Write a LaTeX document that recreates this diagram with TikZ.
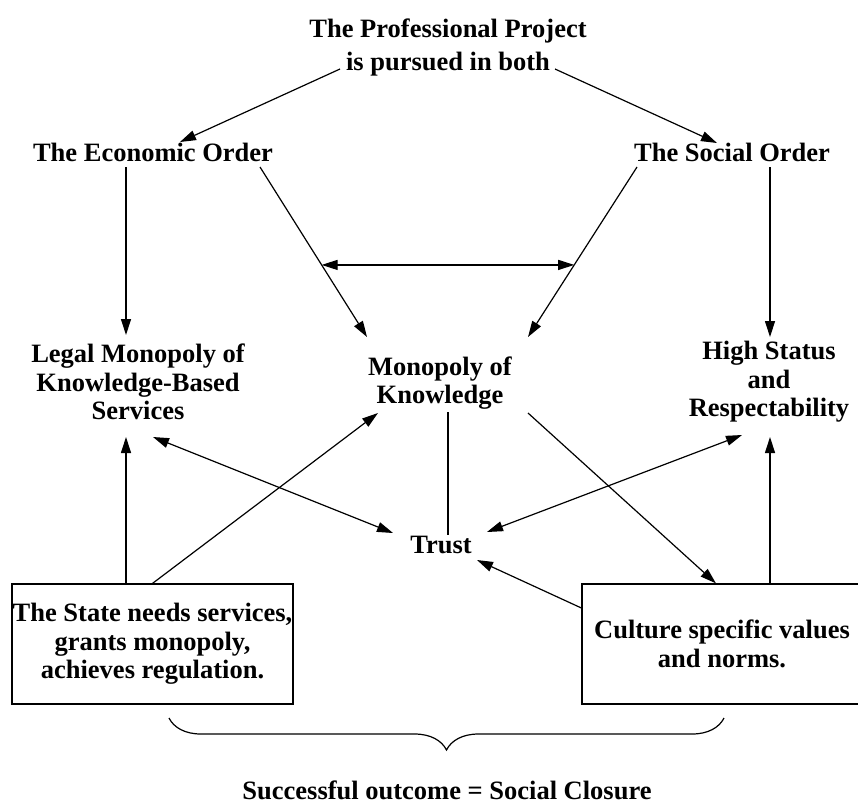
\documentclass[tikz,border=0pt]{standalone}
\usepackage{fontspec}
\setmainfont{Liberation Serif}
\usetikzlibrary{arrows.meta,calc,decorations.pathreplacing}

\tikzset{
  txt/.style={font=\bfseries\fontsize{26.5}{28.5}\selectfont, align=center, inner sep=0pt},
  box/.style={txt, draw, minimum height=120pt},
  arr/.style={-{Triangle[length=16pt,width=10pt]}},
  dblarr/.style={{Triangle[length=16pt,width=10pt]}-{Triangle[length=16pt,width=10pt]}},
}

\begin{document}
\begin{tikzpicture}[x=1pt,y=-1pt,line width=1.2pt]
\useasboundingbox (0,0) rectangle (858,804);

% top row
\node[txt,font=\bfseries\fontsize{26.5}{33}\selectfont] (title) at (448,47) {The Professional Project\\is pursued in both};
\node[txt] (econ) at (153,152) {The Economic Order};
\node[txt] (social) at (732,152) {The Social Order};

% middle row
\node[txt] (legal) at (138,382) {Legal Monopoly of\\Knowledge-Based\\Services};
\node[txt] (mono) at (440,383) {Monopoly of\\Knowledge};
\node[txt] (status) at (769,382) {High Status\\and\\Respectability};
\node[txt] (trust) at (441,545) {Trust};

% boxes
\node[box,minimum width=281pt] (box1) at (152.5,644) {The State needs services,\\grants monopoly,\\achieves regulation.};
\node[box,minimum width=280pt] (box2) at (722,644) {Culture specific values\\and norms.};

\node[txt] (closure) at (447,790) {Successful outcome = Social Closure};

% arrows from the top
\draw[arr] ($(title)+(-108,22)$) -- ($(econ)+(27,-10)$);
\draw[arr] ($(title)+(107,22)$) -- ($(social)+(-15,-9)$);
\draw[arr] ($(econ)+(-27,15)$) -- ($(legal)+(-12,-47)$);
\draw[arr] ($(econ)+(107,15)$) -- coordinate[pos=0.576] (el) ($(mono)+(-73,-46)$);
\draw[arr] ($(social)+(-95,15)$) -- coordinate[pos=0.576] (er) ($(mono)+(88,-46)$);
\draw[arr] ($(social)+(38,15)$) -- ($(status)+(1,-45)$);
\draw[dblarr] (el) -- (er);

% around trust
\draw ($(mono)+(8,29)$) -- ($(trust)+(7,-10)$);
\draw[dblarr] ($(legal)+(15,55)$) -- ($(trust)+(-48,-12)$);
\draw[dblarr] ($(trust)+(46,-13)$) -- ($(status)+(-27,53)$);

% arrows from the boxes
\draw[arr] ([xshift=-26.5pt]box1.north) -- ($(legal)+(-12,55)$);
\draw[arr] (box1.north) -- ($(mono)+(-62,30)$);
\draw[arr] ($(mono)+(88,30)$) -- ([xshift=-6pt]box2.north);
\draw[arr] ([yshift=36pt]box2.west) -- ($(trust)+(36,15)$);
\draw[arr] ([xshift=48pt]box2.north) -- ($(status)+(1,55)$);

% brace under the boxes
\coordinate (bl) at (169,718);
\coordinate (br) at (724,718);
\draw[decorate,decoration={brace,amplitude=32pt,mirror}] (bl) -- (br);
\end{tikzpicture}
\end{document}
